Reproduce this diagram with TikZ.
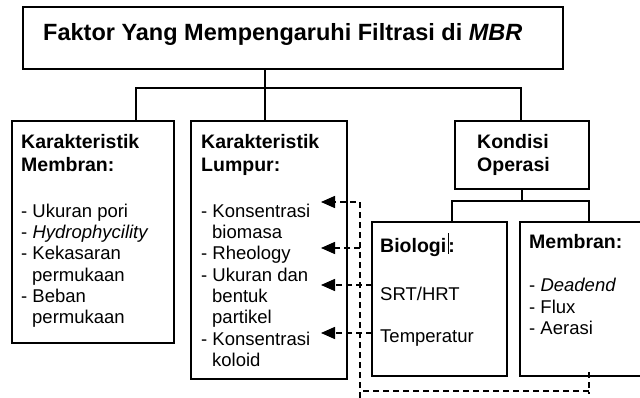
\documentclass[tikz,border=0pt]{standalone}
\usepackage{fontspec}
\setmainfont{Liberation Sans}
\usetikzlibrary{arrows.meta}
\begin{document}
\begin{tikzpicture}[x=1pt,y=-1pt,
 box/.style={draw, line width=1.7pt, inner sep=0pt, outer sep=0pt},
 ttl/.style={font=\fontsize{23.5}{26}\selectfont\bfseries, anchor=base west, inner sep=0pt},
 hd/.style={font=\fontsize{19.5}{22}\selectfont\bfseries, anchor=base west, inner sep=0pt},
 tx/.style={font=\fontsize{18.5}{21}\selectfont, anchor=base west, inner sep=0pt},
 conn/.style={line width=1.5pt},
 dsh/.style={line width=1.5pt, dash pattern=on 6pt off 4pt},
 arr/.style={dsh, -{Triangle[length=14pt,width=12pt]}}
]
\useasboundingbox (0,0) rectangle (640,398);
\begin{scope}
\clip (0,0) rectangle (640,398);
% boxes
\node[box, minimum width=540pt, minimum height=62pt] (top) at (293,38) {};
\node[box, minimum width=162pt, minimum height=222pt] (m1) at (93,232) {};
\node[box, minimum width=156pt, minimum height=258pt] (m2) at (269,250) {};
\node[box, minimum width=134pt, minimum height=68pt] (ko) at (522,155) {};
\node[box, minimum width=135pt, minimum height=154pt] (bio) at (439.5,299) {};
\node[box, minimum width=130pt, minimum height=154pt] (mem) at (585,299) {};

% title
\node[ttl] (t0) at (43,41) {Faktor Yang Mempengaruhi Filtrasi di \textit{MBR}};

% box 1
\node[hd] (h1a) at (21,149) {Karakteristik};
\node[hd] (h1b) at (21,172) {Membran:};
\node[tx] (l1a) at (21,218) {- Ukuran pori};
\node[tx] (l1b) at (21,239) {- \textit{Hydrophycility}};
\node[tx] (l1c) at (21,260) {- Kekasaran};
\node[tx] (l1d) at (32,281) {permukaan};
\node[tx] (l1e) at (21,302) {- Beban};
\node[tx] (l1f) at (32,323) {permukaan};

% box 2
\node[hd] (h2a) at (201,149) {Karakteristik};
\node[hd] (h2b) at (201,172) {Lumpur:};
\node[tx] (l2a) at (201,218) {- Konsentrasi};
\node[tx] (l2b) at (212,239) {biomasa};
\node[tx] (l2c) at (201,260) {- Rheology};
\node[tx] (l2d) at (201,281) {- Ukuran dan};
\node[tx] (l2e) at (212,302) {bentuk};
\node[tx] (l2f) at (212,323) {partikel};
\node[tx] (l2g) at (201,345) {- Konsentrasi};
\node[tx] (l2h) at (212,366) {koloid};

% kondisi
\node[hd] (h3a) at (477,149) {Kondisi};
\node[hd] (h3b) at (477,172) {Operasi};

% biologi
\node[hd] (h4) at (380,253) {Biologi\hspace{1.5pt}\rule[-1pt]{0.6pt}{21pt}:};
\node[tx] (l4a) at (380,300) {SRT/HRT};
\node[tx] (l4b) at (380,342) {Temperatur};

% membran
\node[hd] (h5) at (529,248) {Membran:};
\node[tx] (l5a) at (529,291) {- \textit{Deadend}};
\node[tx] (l5b) at (529,313) {- Flux};
\node[tx] (l5c) at (529,334) {- Aerasi};

% tree connectors
\coordinate (j1) at (265,88);
\coordinate (j0) at (136,88);
\coordinate (j3) at (521,88);
\draw[conn] (j1 |- top.south) -- (j1 |- m2.north);
\draw[conn] (j0 |- m1.north) -- (j0) -- (j3) -- (j3 |- ko.north);
\coordinate (k1) at (452,201);
\coordinate (k2) at (589,201);
\draw[conn] (ko.south) -- (ko.south |- k1);
\draw[conn] (k1 |- bio.north) -- (k1) -- (k2) -- (k2 |- mem.north);

% dashed arrows
\coordinate (a1) at (321,202);
\coordinate (a2) at (321,248);
\coordinate (a3) at (321,285);
\coordinate (a4) at (321,333);
\coordinate (d0) at (360,398);
\coordinate (d1) at (360,391);
\coordinate (d2) at (589,391);
\coordinate (d3) at (589,372);
\draw[dsh] (d3) -- (589,394);
\draw[dsh] (d2) -- (d1);
\draw[arr] (d0) -- (a1 -| d0) -- (a1);
\draw[arr] (a2 -| d0) -- (a2);
\draw[arr] (a3 -| bio.west) -- (a3);
\draw[arr] (a4 -| bio.west) -- (a4);
\end{scope}
\end{tikzpicture}
\end{document}
